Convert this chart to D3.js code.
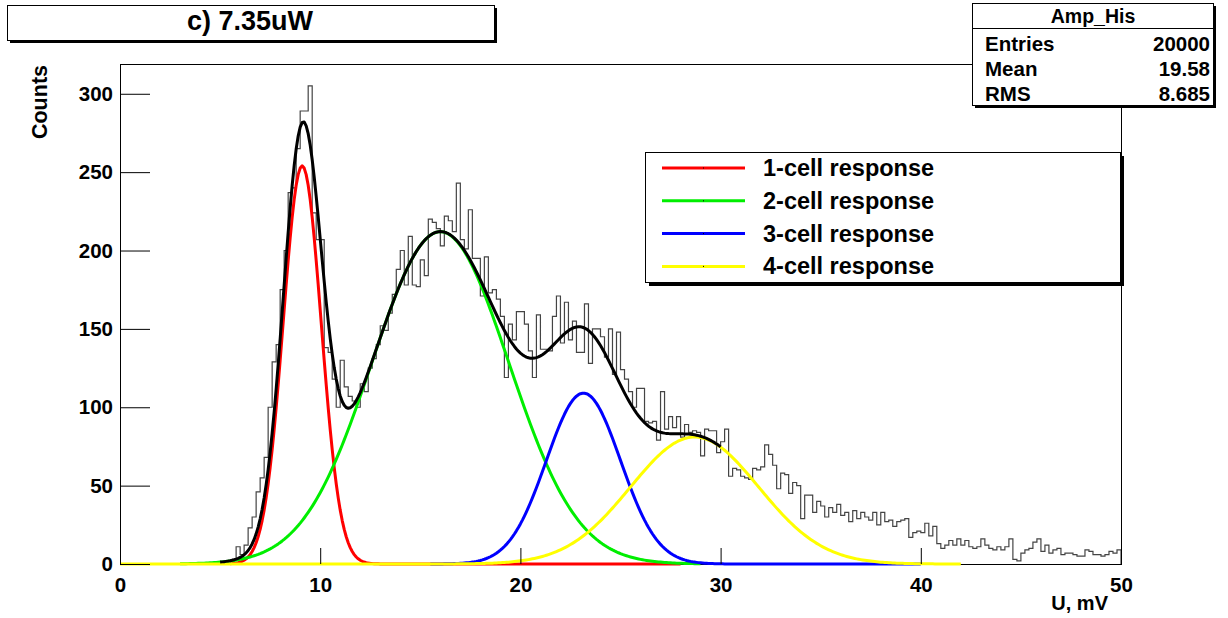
<!DOCTYPE html>
<html lang="en">
<head>
<meta charset="utf-8">
<title>c) 7.35uW - Amp_His</title>
<script src="https://d3js.org/d3.v7.min.js"></script>
<style>
body { margin: 0; background: #fff; }
svg text { font-family: "Liberation Sans", Arial, Helvetica, sans-serif; font-weight: bold; fill: #000; }
</style>
</head>
<body>
<script>
// histogram Amp_His: 250 bins of 0.2 mV from 0 to 50 mV
var binStart = 0;
var binWidth = 0.2;
var counts = [
  0,0,0,0,0,0,0,0,0,0, 0,0,0,0,0,0,0,0,0,0, 0,0,0,0,1,0,1,2,3,11,
  6,12,23,30,46,55,68,100,129,140,
  175,200,237,240,265,289,289,305,224,207,
  207,138,135,118,100,130,113,107,104,100,
  115,110,125,131,140,152,149,160,172,188,
  200,178,209,178,177,194,184,220,218,214,
  203,222,219,212,243,207,201,226,195,195,
  171,196,173,175,169,158,119,153,143,161,
  161,153,136,119,159,137,137,136,158,171,
  141,167,143,155,135,135,166,128,150,150,
  145,132,150,121,148,124,118,110,100,112,
  112,91,90,91,79,110,86,94,87,94,
  81,89,84,85,84,69,86,85,85,71,
  78,86,56,61,60,56,55,54,61,60,
  62,76,70,63,48,58,57,45,52,50,
  29,44,44,33,40,37,30,36,33,38,
  31,33,27,34,29,33,30,28,33,25,
  33,27,28,24,27,28,29,17,20,21,
  20,26,18,24,13,10,12,15,12,16,
  12,15,11,10,11,16,12,10,9,11,
  9,11,16,3,2,7,9,10,14,16,
  8,12,7,9,10,6,7,7,6,5,
  5,9,8,6,6,5,6,8,7,9
];

// gaussian fit components
var compNames = ["1-cell response", "2-cell response", "3-cell response", "4-cell response"];
var compColors = ["#ff0000", "#00ee00", "#0000ff", "#ffff00"];
var compAmp = [254, 212, 109, 81];
var compMean = [9.1, 16.0, 23.15, 28.7];
var compSigma = [0.95, 3.42, 1.85, 3.2];
var compFrom = [5.5, 3, 15.5, 0];
var compTo = [28, 29, 40, 42];
var sumFrom = 5, sumTo = 30;

// stats box
var statTitle = "Amp_His";
var statLabels = ["Entries", "Mean", "RMS"];
var statValues = ["20000", "19.58", "8.685"];

// axes
var xMajor = [0, 10, 20, 30, 40, 50];
var xMinor = d3.range(0, 50.01, 2);
var yMajor = [0, 50, 100, 150, 200, 250, 300];
var yMinor = d3.range(0, 319, 10);
var plotTitle = "c) 7.35uW";
var xTitle = "U, mV";
var yTitle = "Counts";

var w = 1228, h = 618;
var svg = d3.select("body").append("svg").attr("width", w).attr("height", h);

var x = d3.scaleLinear().domain([0, 50]).range([120, 1121]);
var y = d3.scaleLinear().domain([0, 319]).range([564, 64]);

// frame
svg.append("rect")
  .attr("x", 120.5).attr("y", 64.5)
  .attr("width", 1001).attr("height", 500)
  .attr("fill", "none").attr("stroke", "#000").attr("stroke-width", 1);

// histogram outline
var pts = [[binStart, 0]];
counts.forEach(function(c, i) {
  var lo = binStart + i * binWidth;
  pts.push([lo, c]);
  pts.push([lo + binWidth, c]);
});
pts.push([binStart + counts.length * binWidth, 0]);

var line = d3.line().x(function(d) { return x(d[0]); }).y(function(d) { return y(d[1]); });

svg.append("path")
  .attr("d", line(pts))
  .attr("fill", "none")
  .attr("stroke", "#444")
  .attr("stroke-width", 1.2);

// fit curves
function gaus(k, v) {
  return compAmp[k] * Math.exp(-Math.pow(v - compMean[k], 2) / (2 * compSigma[k] * compSigma[k]));
}

compNames.forEach(function(name, k) {
  var xs = d3.range(compFrom[k], compTo[k] + 0.001, 0.1);
  svg.append("path")
    .attr("d", line(xs.map(function(v) { return [v, gaus(k, v)]; })))
    .attr("fill", "none")
    .attr("stroke", compColors[k])
    .attr("stroke-width", 3)
    .attr("stroke-linejoin", "round");
});

var sumXs = d3.range(sumFrom, sumTo + 0.001, 0.1);
svg.append("path")
  .attr("d", line(sumXs.map(function(v) {
    return [v, d3.sum(compNames, function(n, k) { return gaus(k, v); })];
  })))
  .attr("fill", "none")
  .attr("stroke", "#000")
  .attr("stroke-width", 3)
  .attr("stroke-linejoin", "round");

// x axis (ticks inside the frame)
var gx = svg.append("g").attr("transform", "translate(0,564)");
gx.call(d3.axisBottom(x).tickValues(xMinor).tickSize(-7).tickFormat(""));
gx.call(d3.axisBottom(x).tickValues(xMajor).tickSize(-16).tickPadding(13).tickFormat(d3.format("d")));
gx.selectAll("path.domain").remove();
gx.selectAll("line").attr("stroke", "#000");
gx.selectAll("text").style("font-size", "20.5px").attr("fill", "#000");

// y axis
var gy = svg.append("g").attr("transform", "translate(120,0)");
gy.call(d3.axisLeft(y).tickValues(yMinor).tickSize(-15).tickFormat(""));
gy.call(d3.axisLeft(y).tickValues(yMajor).tickSize(-30).tickPadding(7).tickFormat(d3.format("d")));
gy.selectAll("path.domain").remove();
gy.selectAll("line").attr("stroke", "#000");
gy.selectAll("text").style("font-size", "20.5px").attr("fill", "#000");

// axis titles
svg.append("text")
  .attr("x", 1108).attr("y", 610)
  .attr("text-anchor", "end")
  .style("font-size", "20px")
  .text(xTitle);
svg.append("text")
  .attr("transform", "translate(47,65) rotate(-90)")
  .attr("text-anchor", "end")
  .style("font-size", "21.5px")
  .text(yTitle);

// title box
svg.append("rect").attr("x", 10).attr("y", 8).attr("width", 487).attr("height", 35).attr("fill", "#000");
svg.append("rect").attr("x", 7.5).attr("y", 5.5).attr("width", 487).attr("height", 35)
  .attr("fill", "#fff").attr("stroke", "#000");
svg.append("text")
  .attr("x", 250).attr("y", 30)
  .attr("text-anchor", "middle")
  .style("font-size", "27px")
  .text(plotTitle);

// stats box
svg.append("rect").attr("x", 975).attr("y", 6).attr("width", 241).attr("height", 102).attr("fill", "#000");
svg.append("rect").attr("x", 972.5).attr("y", 3.5).attr("width", 241).attr("height", 102)
  .attr("fill", "#fff").attr("stroke", "#000");
svg.append("line").attr("x1", 972.5).attr("x2", 1213.5).attr("y1", 28.5).attr("y2", 28.5).attr("stroke", "#000");
svg.append("text")
  .attr("x", 1093).attr("y", 23)
  .attr("text-anchor", "middle")
  .style("font-size", "19.5px")
  .text(statTitle);
statLabels.forEach(function(lab, i) {
  var yy = 51 + i * 25;
  svg.append("text").attr("x", 985).attr("y", yy).style("font-size", "20.5px").text(lab);
  svg.append("text").attr("x", 1210).attr("y", yy).attr("text-anchor", "end")
    .style("font-size", "20.5px").text(statValues[i]);
});

// legend
svg.append("rect").attr("x", 649).attr("y", 156).attr("width", 475).attr("height", 130).attr("fill", "#000");
svg.append("rect").attr("x", 645.5).attr("y", 152.5).attr("width", 475).attr("height", 130)
  .attr("fill", "#fff").attr("stroke", "#000");
compNames.forEach(function(name, k) {
  var yy = 168 + k * 32.8;
  svg.append("line")
    .attr("x1", 662).attr("x2", 745)
    .attr("y1", yy).attr("y2", yy)
    .attr("stroke", compColors[k]).attr("stroke-width", 3);
  svg.append("rect").attr("x", 703).attr("y", yy - 0.5).attr("width", 1).attr("height", 1).attr("fill", "#000");
  svg.append("text")
    .attr("x", 763).attr("y", yy + 8)
    .style("font-size", "23.5px")
    .text(name);
});
</script>
</body>
</html>
